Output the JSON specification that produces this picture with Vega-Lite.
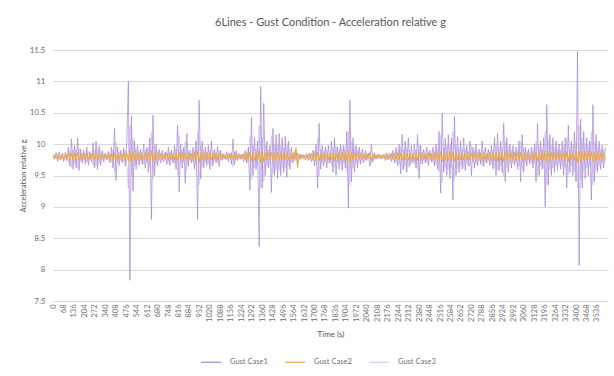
{
  "$schema": "https://vega.github.io/schema/vega-lite/v6.json",
  "width": 555,
  "height": 251,
  "autosize": {"type": "none"},
  "padding": {"left": 53, "top": 50, "right": 6, "bottom": 75},
  "background": "white",
  "title": {"text": "6Lines - Gust Condition - Acceleration relative g", "fontSize": 11, "font": "Lato", "fontWeight": "normal", "color": "#595959", "offset": 18, "anchor": "middle"},
  "config": {
    "view": {"stroke": null},
    "axis": {"labelFont": "Lato", "titleFont": "Lato", "labelColor": "#707070", "titleColor": "#595959", "titleFontWeight": "normal"}
  },
  "data": {"values": [
{"t":0,"c1":9.84,"c2":9.83,"c3":9.78},{"t":10,"c1":9.76,"c2":9.77,"c3":9.82},{"t":20,"c1":9.86,"c2":9.84,"c3":9.76},{"t":30,"c1":9.73,"c2":9.78,"c3":9.84},{"t":40,"c1":9.88,"c2":9.82,"c3":9.75},{"t":50,"c1":9.75,"c2":9.76,"c3":9.83},{"t":60,"c1":9.85,"c2":9.84,"c3":9.77},{"t":70,"c1":9.72,"c2":9.77,"c3":9.85},{"t":80,"c1":9.87,"c2":9.83,"c3":9.76},{"t":90,"c1":9.74,"c2":9.78,"c3":9.84},
{"t":100,"c1":9.95,"c2":9.85,"c3":9.71},{"t":110,"c1":9.65,"c2":9.75,"c3":9.89},{"t":120,"c1":10.08,"c2":9.86,"c3":9.63},{"t":130,"c1":9.6,"c2":9.74,"c3":9.92},{"t":140,"c1":9.98,"c2":9.84,"c3":9.69},{"t":150,"c1":9.62,"c2":9.76,"c3":9.91},{"t":160,"c1":10.1,"c2":9.87,"c3":9.62},{"t":170,"c1":9.58,"c2":9.74,"c3":9.93},{"t":180,"c1":9.92,"c2":9.84,"c3":9.73},{"t":190,"c1":9.7,"c2":9.77,"c3":9.86},
{"t":200,"c1":9.9,"c2":9.84,"c3":9.74},{"t":210,"c1":9.68,"c2":9.76,"c3":9.87},{"t":220,"c1":9.95,"c2":9.85,"c3":9.71},{"t":230,"c1":9.66,"c2":9.75,"c3":9.88},{"t":240,"c1":9.88,"c2":9.83,"c3":9.75},{"t":250,"c1":9.72,"c2":9.77,"c3":9.85},{"t":260,"c1":10.02,"c2":9.86,"c3":9.67},{"t":270,"c1":9.62,"c2":9.75,"c3":9.91},{"t":280,"c1":10.05,"c2":9.85,"c3":9.65},{"t":290,"c1":9.6,"c2":9.76,"c3":9.92},
{"t":300,"c1":9.97,"c2":9.84,"c3":9.7},{"t":310,"c1":9.66,"c2":9.77,"c3":9.88},{"t":320,"c1":9.9,"c2":9.83,"c3":9.74},{"t":330,"c1":9.72,"c2":9.78,"c3":9.85},{"t":340,"c1":9.86,"c2":9.84,"c3":9.76},{"t":350,"c1":9.75,"c2":9.77,"c3":9.83},{"t":360,"c1":9.88,"c2":9.83,"c3":9.75},{"t":370,"c1":9.7,"c2":9.76,"c3":9.86},{"t":380,"c1":9.95,"c2":9.85,"c3":9.71},{"t":390,"c1":9.62,"c2":9.74,"c3":9.91},
{"t":400,"c1":10.25,"c2":9.86,"c3":9.53},{"t":410,"c1":9.42,"c2":9.74,"c3":10.03},{"t":420,"c1":9.95,"c2":9.85,"c3":9.71},{"t":430,"c1":9.66,"c2":9.76,"c3":9.88},{"t":440,"c1":9.9,"c2":9.84,"c3":9.74},{"t":450,"c1":9.7,"c2":9.77,"c3":9.86},{"t":460,"c1":9.94,"c2":9.85,"c3":9.72},{"t":470,"c1":9.65,"c2":9.75,"c3":9.89},{"t":480,"c1":10.05,"c2":9.87,"c3":9.65},{"t":490,"c1":11.0,"c2":9.72,"c3":9.3},
{"t":500,"c1":7.83,"c2":9.9,"c3":10.3},{"t":510,"c1":10.45,"c2":9.7,"c3":9.5},{"t":520,"c1":9.25,"c2":9.88,"c3":10.1},{"t":530,"c1":10.05,"c2":9.74,"c3":9.65},{"t":540,"c1":9.6,"c2":9.86,"c3":9.92},{"t":550,"c1":9.98,"c2":9.75,"c3":9.69},{"t":560,"c1":9.66,"c2":9.85,"c3":9.88},{"t":570,"c1":9.92,"c2":9.76,"c3":9.73},{"t":580,"c1":9.68,"c2":9.84,"c3":9.87},{"t":590,"c1":10.0,"c2":9.77,"c3":9.68},
{"t":600,"c1":9.62,"c2":9.85,"c3":9.91},{"t":610,"c1":9.95,"c2":9.76,"c3":9.71},{"t":620,"c1":9.55,"c2":9.86,"c3":9.95},{"t":630,"c1":10.1,"c2":9.74,"c3":9.62},{"t":640,"c1":8.8,"c2":9.9,"c3":10.2},{"t":650,"c1":10.46,"c2":9.71,"c3":9.45},{"t":660,"c1":9.5,"c2":9.86,"c3":9.98},{"t":670,"c1":10.0,"c2":9.75,"c3":9.68},{"t":680,"c1":9.65,"c2":9.84,"c3":9.89},{"t":690,"c1":9.92,"c2":9.77,"c3":9.73},
{"t":700,"c1":9.7,"c2":9.84,"c3":9.86},{"t":710,"c1":9.9,"c2":9.77,"c3":9.74},{"t":720,"c1":9.72,"c2":9.83,"c3":9.85},{"t":730,"c1":9.88,"c2":9.78,"c3":9.75},{"t":740,"c1":9.68,"c2":9.84,"c3":9.87},{"t":750,"c1":9.95,"c2":9.76,"c3":9.71},{"t":760,"c1":9.66,"c2":9.85,"c3":9.88},{"t":770,"c1":9.9,"c2":9.77,"c3":9.74},{"t":780,"c1":9.7,"c2":9.83,"c3":9.86},{"t":790,"c1":9.98,"c2":9.76,"c3":9.69},
{"t":800,"c1":9.6,"c2":9.86,"c3":9.92},{"t":810,"c1":10.3,"c2":9.74,"c3":9.5},{"t":820,"c1":9.24,"c2":9.87,"c3":10.14},{"t":830,"c1":10.0,"c2":9.75,"c3":9.68},{"t":840,"c1":9.62,"c2":9.85,"c3":9.91},{"t":850,"c1":9.95,"c2":9.76,"c3":9.71},{"t":860,"c1":9.38,"c2":9.86,"c3":10.05},{"t":870,"c1":10.17,"c2":9.73,"c3":9.58},{"t":880,"c1":9.65,"c2":9.84,"c3":9.89},{"t":890,"c1":9.9,"c2":9.77,"c3":9.74},
{"t":900,"c1":9.7,"c2":9.84,"c3":9.86},{"t":910,"c1":9.95,"c2":9.76,"c3":9.71},{"t":920,"c1":9.6,"c2":9.85,"c3":9.92},{"t":930,"c1":10.05,"c2":9.75,"c3":9.65},{"t":940,"c1":8.8,"c2":9.9,"c3":10.2},{"t":950,"c1":10.7,"c2":9.7,"c3":9.35},{"t":960,"c1":9.45,"c2":9.86,"c3":10.01},{"t":970,"c1":10.05,"c2":9.75,"c3":9.65},{"t":980,"c1":9.62,"c2":9.85,"c3":9.91},{"t":990,"c1":9.95,"c2":9.76,"c3":9.71},
{"t":1000,"c1":9.66,"c2":9.85,"c3":9.88},{"t":1010,"c1":9.98,"c2":9.76,"c3":9.69},{"t":1020,"c1":9.6,"c2":9.86,"c3":9.92},{"t":1030,"c1":10.05,"c2":9.75,"c3":9.65},{"t":1040,"c1":9.65,"c2":9.84,"c3":9.89},{"t":1050,"c1":9.92,"c2":9.77,"c3":9.73},{"t":1060,"c1":9.7,"c2":9.85,"c3":9.86},{"t":1070,"c1":9.96,"c2":9.76,"c3":9.7},{"t":1080,"c1":9.64,"c2":9.84,"c3":9.9},{"t":1090,"c1":9.9,"c2":9.77,"c3":9.74},
{"t":1100,"c1":9.74,"c2":9.83,"c3":9.84},{"t":1110,"c1":9.85,"c2":9.78,"c3":9.77},{"t":1120,"c1":9.76,"c2":9.82,"c3":9.82},{"t":1130,"c1":9.88,"c2":9.77,"c3":9.75},{"t":1140,"c1":9.72,"c2":9.83,"c3":9.85},{"t":1150,"c1":9.86,"c2":9.78,"c3":9.76},{"t":1160,"c1":9.68,"c2":9.84,"c3":9.87},{"t":1170,"c1":10.08,"c2":9.76,"c3":9.63},{"t":1180,"c1":9.67,"c2":9.85,"c3":9.88},{"t":1190,"c1":9.9,"c2":9.77,"c3":9.74},
{"t":1200,"c1":9.74,"c2":9.83,"c3":9.84},{"t":1210,"c1":9.85,"c2":9.78,"c3":9.77},{"t":1220,"c1":9.76,"c2":9.82,"c3":9.82},{"t":1230,"c1":9.84,"c2":9.77,"c3":9.78},{"t":1240,"c1":9.72,"c2":9.84,"c3":9.85},{"t":1250,"c1":9.9,"c2":9.76,"c3":9.74},{"t":1260,"c1":9.7,"c2":9.85,"c3":9.86},{"t":1270,"c1":9.95,"c2":9.75,"c3":9.71},{"t":1280,"c1":9.27,"c2":9.87,"c3":10.12},{"t":1290,"c1":10.42,"c2":9.73,"c3":9.43},
{"t":1300,"c1":9.5,"c2":9.86,"c3":9.98},{"t":1310,"c1":10.1,"c2":9.74,"c3":9.62},{"t":1320,"c1":9.6,"c2":9.85,"c3":9.92},{"t":1330,"c1":10.05,"c2":9.75,"c3":9.65},{"t":1340,"c1":8.37,"c2":9.9,"c3":10.3},{"t":1350,"c1":10.92,"c2":9.7,"c3":9.3},{"t":1360,"c1":9.3,"c2":9.88,"c3":10.1},{"t":1370,"c1":10.65,"c2":9.72,"c3":9.4},{"t":1380,"c1":9.5,"c2":9.86,"c3":9.98},{"t":1390,"c1":10.05,"c2":9.75,"c3":9.65},
{"t":1400,"c1":9.62,"c2":9.85,"c3":9.91},{"t":1410,"c1":9.98,"c2":9.76,"c3":9.69},{"t":1420,"c1":9.23,"c2":9.87,"c3":10.14},{"t":1430,"c1":10.25,"c2":9.73,"c3":9.53},{"t":1440,"c1":9.5,"c2":9.86,"c3":9.98},{"t":1450,"c1":10.15,"c2":9.74,"c3":9.59},{"t":1460,"c1":9.45,"c2":9.87,"c3":10.01},{"t":1470,"c1":10.17,"c2":9.74,"c3":9.58},{"t":1480,"c1":9.5,"c2":9.86,"c3":9.98},{"t":1490,"c1":10.1,"c2":9.75,"c3":9.62},
{"t":1500,"c1":9.55,"c2":9.86,"c3":9.95},{"t":1510,"c1":10.12,"c2":9.75,"c3":9.61},{"t":1520,"c1":9.47,"c2":9.85,"c3":10.0},{"t":1530,"c1":10.05,"c2":9.76,"c3":9.65},{"t":1540,"c1":9.6,"c2":9.84,"c3":9.92},{"t":1550,"c1":9.95,"c2":9.77,"c3":9.71},{"t":1560,"c1":9.7,"c2":9.85,"c3":9.86},{"t":1570,"c1":9.88,"c2":9.76,"c3":9.75},{"t":1580,"c1":9.73,"c2":9.95,"c3":9.84},{"t":1590,"c1":9.86,"c2":9.62,"c3":9.76},
{"t":1600,"c1":9.76,"c2":9.84,"c3":9.82},{"t":1610,"c1":9.84,"c2":9.77,"c3":9.78},{"t":1620,"c1":9.77,"c2":9.83,"c3":9.82},{"t":1630,"c1":9.83,"c2":9.78,"c3":9.78},{"t":1640,"c1":9.75,"c2":9.82,"c3":9.83},{"t":1650,"c1":9.85,"c2":9.78,"c3":9.77},{"t":1660,"c1":9.74,"c2":9.83,"c3":9.84},{"t":1670,"c1":9.86,"c2":9.77,"c3":9.76},{"t":1680,"c1":9.72,"c2":9.84,"c3":9.85},{"t":1690,"c1":9.9,"c2":9.76,"c3":9.74},
{"t":1700,"c1":9.65,"c2":9.85,"c3":9.89},{"t":1710,"c1":10.0,"c2":9.75,"c3":9.68},{"t":1720,"c1":9.3,"c2":9.87,"c3":10.1},{"t":1730,"c1":10.33,"c2":9.73,"c3":9.48},{"t":1740,"c1":9.6,"c2":9.85,"c3":9.92},{"t":1750,"c1":9.98,"c2":9.76,"c3":9.69},{"t":1760,"c1":9.65,"c2":9.84,"c3":9.89},{"t":1770,"c1":9.95,"c2":9.76,"c3":9.71},{"t":1780,"c1":9.62,"c2":9.85,"c3":9.91},{"t":1790,"c1":9.98,"c2":9.76,"c3":9.69},
{"t":1800,"c1":9.7,"c2":9.84,"c3":9.86},{"t":1810,"c1":10.05,"c2":9.75,"c3":9.65},{"t":1820,"c1":9.55,"c2":9.86,"c3":9.95},{"t":1830,"c1":10.1,"c2":9.74,"c3":9.62},{"t":1840,"c1":9.5,"c2":9.86,"c3":9.98},{"t":1850,"c1":9.95,"c2":9.76,"c3":9.71},{"t":1860,"c1":9.6,"c2":9.85,"c3":9.92},{"t":1870,"c1":10.0,"c2":9.75,"c3":9.68},{"t":1880,"c1":9.58,"c2":9.85,"c3":9.93},{"t":1890,"c1":9.98,"c2":9.76,"c3":9.69},
{"t":1900,"c1":9.62,"c2":9.86,"c3":9.91},{"t":1910,"c1":10.2,"c2":9.73,"c3":9.56},{"t":1920,"c1":8.98,"c2":9.9,"c3":10.2},{"t":1930,"c1":10.7,"c2":9.7,"c3":9.35},{"t":1940,"c1":9.4,"c2":9.87,"c3":10.04},{"t":1950,"c1":10.1,"c2":9.75,"c3":9.62},{"t":1960,"c1":9.55,"c2":9.85,"c3":9.95},{"t":1970,"c1":9.98,"c2":9.76,"c3":9.69},{"t":1980,"c1":9.62,"c2":9.84,"c3":9.91},{"t":1990,"c1":9.95,"c2":9.77,"c3":9.71},
{"t":2000,"c1":9.68,"c2":9.84,"c3":9.87},{"t":2010,"c1":9.92,"c2":9.77,"c3":9.73},{"t":2020,"c1":9.7,"c2":9.83,"c3":9.86},{"t":2030,"c1":9.9,"c2":9.77,"c3":9.74},{"t":2040,"c1":9.74,"c2":9.84,"c3":9.84},{"t":2050,"c1":9.86,"c2":9.78,"c3":9.76},{"t":2060,"c1":9.65,"c2":9.85,"c3":9.89},{"t":2070,"c1":10.0,"c2":9.75,"c3":9.68},{"t":2080,"c1":9.72,"c2":9.83,"c3":9.85},{"t":2090,"c1":9.86,"c2":9.78,"c3":9.76},
{"t":2100,"c1":9.76,"c2":9.82,"c3":9.82},{"t":2110,"c1":9.84,"c2":9.78,"c3":9.78},{"t":2120,"c1":9.77,"c2":9.83,"c3":9.82},{"t":2130,"c1":9.83,"c2":9.78,"c3":9.78},{"t":2140,"c1":9.76,"c2":9.82,"c3":9.82},{"t":2150,"c1":9.84,"c2":9.79,"c3":9.78},{"t":2160,"c1":9.74,"c2":9.83,"c3":9.84},{"t":2170,"c1":9.86,"c2":9.77,"c3":9.76},{"t":2180,"c1":9.75,"c2":9.82,"c3":9.83},{"t":2190,"c1":9.85,"c2":9.78,"c3":9.77},
{"t":2200,"c1":9.72,"c2":9.84,"c3":9.85},{"t":2210,"c1":9.9,"c2":9.77,"c3":9.74},{"t":2220,"c1":9.7,"c2":9.84,"c3":9.86},{"t":2230,"c1":9.95,"c2":9.76,"c3":9.71},{"t":2240,"c1":9.66,"c2":9.85,"c3":9.88},{"t":2250,"c1":10.0,"c2":9.75,"c3":9.68},{"t":2260,"c1":9.53,"c2":9.86,"c3":9.96},{"t":2270,"c1":10.15,"c2":9.74,"c3":9.59},{"t":2280,"c1":9.6,"c2":9.85,"c3":9.92},{"t":2290,"c1":10.05,"c2":9.75,"c3":9.65},
{"t":2300,"c1":9.55,"c2":9.86,"c3":9.95},{"t":2310,"c1":10.1,"c2":9.74,"c3":9.62},{"t":2320,"c1":9.65,"c2":9.85,"c3":9.89},{"t":2330,"c1":9.98,"c2":9.76,"c3":9.69},{"t":2340,"c1":9.7,"c2":9.84,"c3":9.86},{"t":2350,"c1":10.0,"c2":9.75,"c3":9.68},{"t":2360,"c1":9.62,"c2":9.85,"c3":9.91},{"t":2370,"c1":10.15,"c2":9.74,"c3":9.59},{"t":2380,"c1":9.45,"c2":9.87,"c3":10.01},{"t":2390,"c1":9.98,"c2":9.76,"c3":9.69},
{"t":2400,"c1":9.68,"c2":9.84,"c3":9.87},{"t":2410,"c1":9.92,"c2":9.77,"c3":9.73},{"t":2420,"c1":9.7,"c2":9.84,"c3":9.86},{"t":2430,"c1":9.95,"c2":9.76,"c3":9.71},{"t":2440,"c1":9.66,"c2":9.85,"c3":9.88},{"t":2450,"c1":9.9,"c2":9.77,"c3":9.74},{"t":2460,"c1":9.72,"c2":9.84,"c3":9.85},{"t":2470,"c1":9.95,"c2":9.76,"c3":9.71},{"t":2480,"c1":9.65,"c2":9.85,"c3":9.89},{"t":2490,"c1":10.0,"c2":9.75,"c3":9.68},
{"t":2500,"c1":9.6,"c2":9.86,"c3":9.92},{"t":2510,"c1":10.2,"c2":9.74,"c3":9.56},{"t":2520,"c1":9.22,"c2":9.88,"c3":10.15},{"t":2530,"c1":10.49,"c2":9.72,"c3":9.39},{"t":2540,"c1":9.55,"c2":9.86,"c3":9.95},{"t":2550,"c1":10.1,"c2":9.75,"c3":9.62},{"t":2560,"c1":9.5,"c2":9.86,"c3":9.98},{"t":2570,"c1":10.15,"c2":9.74,"c3":9.59},{"t":2580,"c1":9.45,"c2":9.87,"c3":10.01},{"t":2590,"c1":10.1,"c2":9.75,"c3":9.62},
{"t":2600,"c1":9.11,"c2":9.88,"c3":10.2},{"t":2610,"c1":10.44,"c2":9.72,"c3":9.42},{"t":2620,"c1":9.5,"c2":9.86,"c3":9.98},{"t":2630,"c1":10.12,"c2":9.75,"c3":9.61},{"t":2640,"c1":9.55,"c2":9.85,"c3":9.95},{"t":2650,"c1":10.05,"c2":9.75,"c3":9.65},{"t":2660,"c1":9.6,"c2":9.85,"c3":9.92},{"t":2670,"c1":10.1,"c2":9.74,"c3":9.62},{"t":2680,"c1":9.58,"c2":9.85,"c3":9.93},{"t":2690,"c1":9.98,"c2":9.76,"c3":9.69},
{"t":2700,"c1":9.65,"c2":9.85,"c3":9.89},{"t":2710,"c1":10.05,"c2":9.75,"c3":9.65},{"t":2720,"c1":9.5,"c2":9.86,"c3":9.98},{"t":2730,"c1":9.95,"c2":9.76,"c3":9.71},{"t":2740,"c1":9.62,"c2":9.85,"c3":9.91},{"t":2750,"c1":10.0,"c2":9.75,"c3":9.68},{"t":2760,"c1":9.66,"c2":9.84,"c3":9.88},{"t":2770,"c1":9.92,"c2":9.77,"c3":9.73},{"t":2780,"c1":9.68,"c2":9.84,"c3":9.87},{"t":2790,"c1":10.05,"c2":9.75,"c3":9.65},
{"t":2800,"c1":9.65,"c2":9.85,"c3":9.89},{"t":2810,"c1":9.95,"c2":9.76,"c3":9.71},{"t":2820,"c1":9.7,"c2":9.84,"c3":9.86},{"t":2830,"c1":9.92,"c2":9.77,"c3":9.73},{"t":2840,"c1":9.66,"c2":9.85,"c3":9.88},{"t":2850,"c1":9.98,"c2":9.76,"c3":9.69},{"t":2860,"c1":9.6,"c2":9.86,"c3":9.92},{"t":2870,"c1":10.1,"c2":9.74,"c3":9.62},{"t":2880,"c1":9.5,"c2":9.87,"c3":9.98},{"t":2890,"c1":10.17,"c2":9.73,"c3":9.58},
{"t":2900,"c1":9.58,"c2":9.86,"c3":9.93},{"t":2910,"c1":10.05,"c2":9.75,"c3":9.65},{"t":2920,"c1":9.55,"c2":9.86,"c3":9.95},{"t":2930,"c1":10.33,"c2":9.72,"c3":9.48},{"t":2940,"c1":9.4,"c2":9.88,"c3":10.04},{"t":2950,"c1":10.1,"c2":9.74,"c3":9.62},{"t":2960,"c1":9.55,"c2":9.85,"c3":9.95},{"t":2970,"c1":10.0,"c2":9.76,"c3":9.68},{"t":2980,"c1":9.62,"c2":9.85,"c3":9.91},{"t":2990,"c1":9.98,"c2":9.76,"c3":9.69},
{"t":3000,"c1":9.66,"c2":9.85,"c3":9.88},{"t":3010,"c1":9.95,"c2":9.76,"c3":9.71},{"t":3020,"c1":9.6,"c2":9.86,"c3":9.92},{"t":3030,"c1":10.05,"c2":9.75,"c3":9.65},{"t":3040,"c1":9.4,"c2":9.87,"c3":10.04},{"t":3050,"c1":10.15,"c2":9.73,"c3":9.59},{"t":3060,"c1":9.55,"c2":9.86,"c3":9.95},{"t":3070,"c1":9.95,"c2":9.76,"c3":9.71},{"t":3080,"c1":9.65,"c2":9.84,"c3":9.89},{"t":3090,"c1":9.92,"c2":9.77,"c3":9.73},
{"t":3100,"c1":9.68,"c2":9.84,"c3":9.87},{"t":3110,"c1":9.95,"c2":9.76,"c3":9.71},{"t":3120,"c1":9.62,"c2":9.85,"c3":9.91},{"t":3130,"c1":10.0,"c2":9.75,"c3":9.68},{"t":3140,"c1":9.4,"c2":9.87,"c3":10.04},{"t":3150,"c1":10.33,"c2":9.72,"c3":9.48},{"t":3160,"c1":9.5,"c2":9.86,"c3":9.98},{"t":3170,"c1":10.05,"c2":9.75,"c3":9.65},{"t":3180,"c1":9.6,"c2":9.86,"c3":9.92},{"t":3190,"c1":10.1,"c2":9.74,"c3":9.62},
{"t":3200,"c1":9.0,"c2":9.89,"c3":10.2},{"t":3210,"c1":10.63,"c2":9.71,"c3":9.35},{"t":3220,"c1":9.35,"c2":9.87,"c3":10.07},{"t":3230,"c1":10.15,"c2":9.74,"c3":9.59},{"t":3240,"c1":9.5,"c2":9.86,"c3":9.98},{"t":3250,"c1":10.1,"c2":9.75,"c3":9.62},{"t":3260,"c1":9.55,"c2":9.86,"c3":9.95},{"t":3270,"c1":10.05,"c2":9.75,"c3":9.65},{"t":3280,"c1":9.58,"c2":9.85,"c3":9.93},{"t":3290,"c1":10.0,"c2":9.76,"c3":9.68},
{"t":3300,"c1":9.6,"c2":9.86,"c3":9.92},{"t":3310,"c1":10.05,"c2":9.75,"c3":9.65},{"t":3320,"c1":9.5,"c2":9.86,"c3":9.98},{"t":3330,"c1":10.1,"c2":9.74,"c3":9.62},{"t":3340,"c1":9.3,"c2":9.88,"c3":10.1},{"t":3350,"c1":10.3,"c2":9.72,"c3":9.5},{"t":3360,"c1":9.55,"c2":9.86,"c3":9.95},{"t":3370,"c1":10.05,"c2":9.75,"c3":9.65},{"t":3380,"c1":9.5,"c2":9.86,"c3":9.98},{"t":3390,"c1":10.2,"c2":9.74,"c3":9.56},
{"t":3400,"c1":9.4,"c2":9.87,"c3":10.04},{"t":3410,"c1":11.48,"c2":9.7,"c3":9.3},{"t":3420,"c1":8.07,"c2":9.9,"c3":10.3},{"t":3430,"c1":10.4,"c2":9.72,"c3":9.44},{"t":3440,"c1":9.3,"c2":9.88,"c3":10.1},{"t":3450,"c1":10.2,"c2":9.74,"c3":9.56},{"t":3460,"c1":9.45,"c2":9.87,"c3":10.01},{"t":3470,"c1":10.1,"c2":9.75,"c3":9.62},{"t":3480,"c1":9.5,"c2":9.86,"c3":9.98},{"t":3490,"c1":10.05,"c2":9.75,"c3":9.65},
{"t":3500,"c1":9.11,"c2":9.88,"c3":10.2},{"t":3510,"c1":10.63,"c2":9.72,"c3":9.35},{"t":3520,"c1":9.4,"c2":9.87,"c3":10.04},{"t":3530,"c1":10.15,"c2":9.74,"c3":9.59},{"t":3540,"c1":9.55,"c2":9.86,"c3":9.95},{"t":3550,"c1":10.05,"c2":9.75,"c3":9.65},{"t":3560,"c1":9.6,"c2":9.85,"c3":9.92},{"t":3570,"c1":9.98,"c2":9.76,"c3":9.69},{"t":3580,"c1":9.62,"c2":9.85,"c3":9.91},{"t":3590,"c1":9.95,"c2":9.76,"c3":9.71}
  ]},
  "transform": [{"fold": ["c1", "c2", "c3"], "as": ["series", "value"]}],
  "encoding": {
    "x": {"field": "t", "type": "quantitative",
      "scale": {"domain": [0, 3608], "nice": false, "zero": false},
      "axis": {"title": "Time (s)", "titleFontSize": 8, "titlePadding": 9, "labelFontSize": 7.5, "labelAngle": -90, "labelPadding": 3, "ticks": false, "domain": false, "grid": false, "format": "d", "labelOverlap": false, "labelBound": false, "labelFlush": false,
        "values": [0,68,136,204,272,340,408,476,544,612,680,748,816,884,952,1020,1088,1156,1224,1292,1360,1428,1496,1564,1632,1700,1768,1836,1904,1972,2040,2108,2176,2244,2312,2380,2448,2516,2584,2652,2720,2788,2856,2924,2992,3060,3128,3196,3264,3332,3400,3468,3536]}},
    "y": {"field": "value", "type": "quantitative",
      "scale": {"domain": [7.5, 11.5], "nice": false, "zero": false},
      "axis": {"title": "Acceleration relative g", "titleFontSize": 7.5, "titlePadding": 2, "labelFontSize": 8, "labelPadding": 8, "ticks": false, "domain": false, "grid": true, "gridColor": "#D9D9D9", "gridWidth": 1, "format": ".1~f",
        "values": [7.5, 8, 8.5, 9, 9.5, 10, 10.5, 11, 11.5]}},
    "color": {"field": "series", "type": "nominal",
      "scale": {"domain": ["c1", "c2", "c3"], "range": ["#A584D9", "#F2A93B", "#D6C9EF"]},
      "legend": {"title": null, "orient": "none", "direction": "horizontal", "legendX": 147, "legendY": 301, "symbolType": "stroke", "symbolSize": 400, "symbolStrokeWidth": 1.2, "labelFontSize": 7.5, "labelFont": "Lato", "labelColor": "#707070", "labelOffset": 8, "columnPadding": 14,
        "labelExpr": "'Gust Case' + substring(datum.label, 1)"}}
  },
  "layer": [
    {"transform": [{"filter": "datum.series === 'c3'"}], "mark": {"type": "line", "strokeWidth": 0.9, "clip": true}},
    {"transform": [{"filter": "datum.series === 'c1'"}], "mark": {"type": "line", "strokeWidth": 0.7, "clip": true}},
    {"transform": [{"filter": "datum.series === 'c2'"}], "mark": {"type": "line", "strokeWidth": 1.1, "clip": true}}
  ]
}
